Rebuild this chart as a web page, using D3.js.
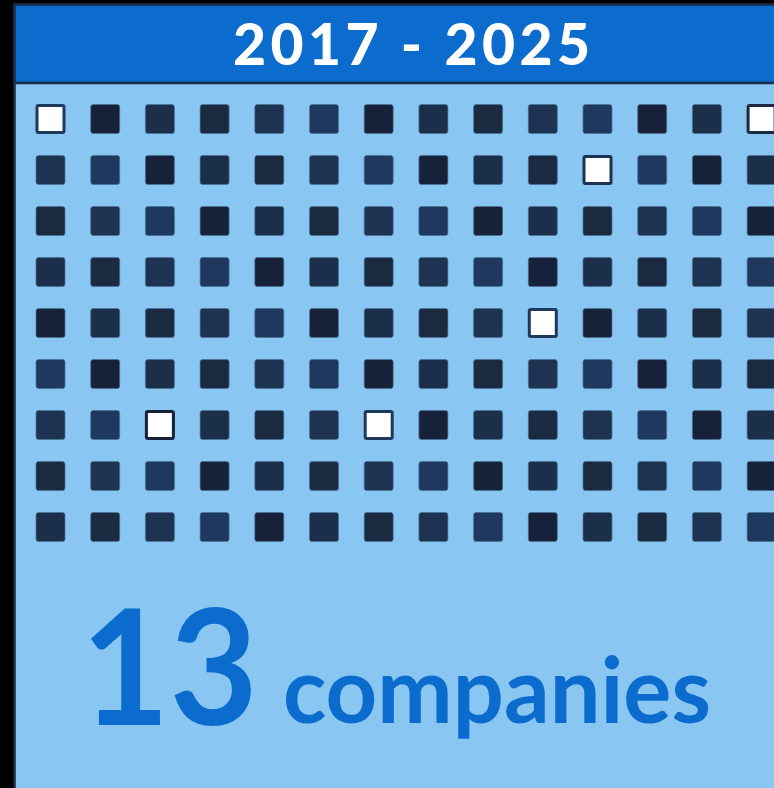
<!DOCTYPE html>
<html>
<head>
<meta charset="utf-8">
<script src="https://cdn.jsdelivr.net/npm/d3@7"></script>
<style>
  html, body { margin: 0; padding: 0; background: #000; }
  svg { display: block; }
</style>
</head>
<body>
<svg id="chart" width="774" height="788"></svg>
<script>
// Period shown in the header
const periodLabel = "2017 - 2025";

// Headline figure
const companyCount = 13;
const countUnit = "companies";

// Shade level (0 = darkest navy … 4 = bluest) of every cell, row by row
const shadeRows = [
  [4, 0, 2, 1, 3, 4, 0, 2, 1, 3, 4, 0, 2, 1],
  [3, 4, 0, 2, 1, 3, 4, 0, 2, 1, 3, 4, 0, 2],
  [1, 3, 4, 0, 2, 1, 3, 4, 0, 2, 1, 3, 4, 0],
  [2, 1, 3, 4, 0, 2, 1, 3, 4, 0, 2, 1, 3, 4],
  [0, 2, 1, 3, 4, 0, 2, 1, 3, 4, 0, 2, 1, 3],
  [4, 0, 2, 1, 3, 4, 0, 2, 1, 3, 4, 0, 2, 1],
  [3, 4, 0, 2, 1, 3, 4, 0, 2, 1, 3, 4, 0, 2],
  [1, 3, 4, 0, 2, 1, 3, 4, 0, 2, 1, 3, 4, 0],
  [2, 1, 3, 4, 0, 2, 1, 3, 4, 0, 2, 1, 3, 4]
];

// Highlighted cells [row, column]
const highlighted = [
  [0, 0], [0, 13], [1, 10], [4, 9], [6, 2], [6, 6]
];

const shadeColors = ["#172139", "#192a41", "#1b2e4a", "#1d3351", "#1e385e"];

const svg = d3.select("#chart");

// Frame: black margin, header band and light panel
svg.append("rect").attr("x", 0).attr("y", 0).attr("width", 774).attr("height", 788).attr("fill", "#000");
svg.append("rect")
  .attr("x", 14.5).attr("y", 4.5).attr("width", 800).attr("height", 800)
  .attr("fill", "#89c7f2").attr("stroke", "#1a2b45").attr("stroke-width", 2.5);
svg.append("rect")
  .attr("x", 14.5).attr("y", 4.5).attr("width", 800).attr("height", 78.5)
  .attr("fill", "#0b6ccd").attr("stroke", "#1a2b45").attr("stroke-width", 2.5);

svg.append("text")
  .attr("x", 233).attr("y", 65)
  .attr("textLength", 357).attr("lengthAdjust", "spacing")
  .attr("font-family", "Lato, 'Open Sans', sans-serif")
  .attr("font-weight", 900).attr("font-size", 57)
  .attr("fill", "#ffffff")
  .text(periodLabel);

// Grid of cells
const nRows = shadeRows.length;
const nCols = shadeRows[0].length;
const x = d3.scaleLinear().domain([0, nCols - 1]).range([50.5, 761.6]);
const y = d3.scaleLinear().domain([0, nRows - 1]).range([119, 527]);

const isHighlighted = (r, c) => highlighted.some(([hr, hc]) => hr === r && hc === c);

const cells = [];
shadeRows.forEach((row, r) => row.forEach((s, c) => cells.push({ r, c, s, hi: isHighlighted(r, c) })));

svg.append("g").selectAll("rect")
  .data(cells)
  .join("rect")
  .attr("x", d => x(d.c) - (d.hi ? 13.5 : 14.5))
  .attr("y", d => y(d.r) - (d.hi ? 13.5 : 14.5))
  .attr("width", d => d.hi ? 27 : 29)
  .attr("height", d => d.hi ? 27 : 29)
  .attr("rx", d => d.hi ? 1.5 : 2.5)
  .attr("fill", d => d.hi ? "#ffffff" : shadeColors[d.s])
  .attr("stroke", d => d.hi ? shadeColors[d.s] : "#4a7196")
  .attr("stroke-opacity", d => d.hi ? 1 : 0.7)
  .attr("stroke-width", d => d.hi ? 3 : 1);

// Headline
svg.append("text")
  .attr("x", 81).attr("y", 725)
  .attr("textLength", 177).attr("lengthAdjust", "spacingAndGlyphs")
  .attr("font-family", "Lato, 'Open Sans', sans-serif")
  .attr("font-weight", 700).attr("font-size", 161)
  .attr("fill", "#0b6ccd")
  .text(companyCount);

svg.append("text")
  .attr("x", 283).attr("y", 723)
  .attr("textLength", 428).attr("lengthAdjust", "spacingAndGlyphs")
  .attr("font-family", "Lato, 'Open Sans', sans-serif")
  .attr("font-weight", 700).attr("font-size", 91)
  .attr("fill", "#0b6ccd")
  .text(countUnit);
</script>
</body>
</html>
